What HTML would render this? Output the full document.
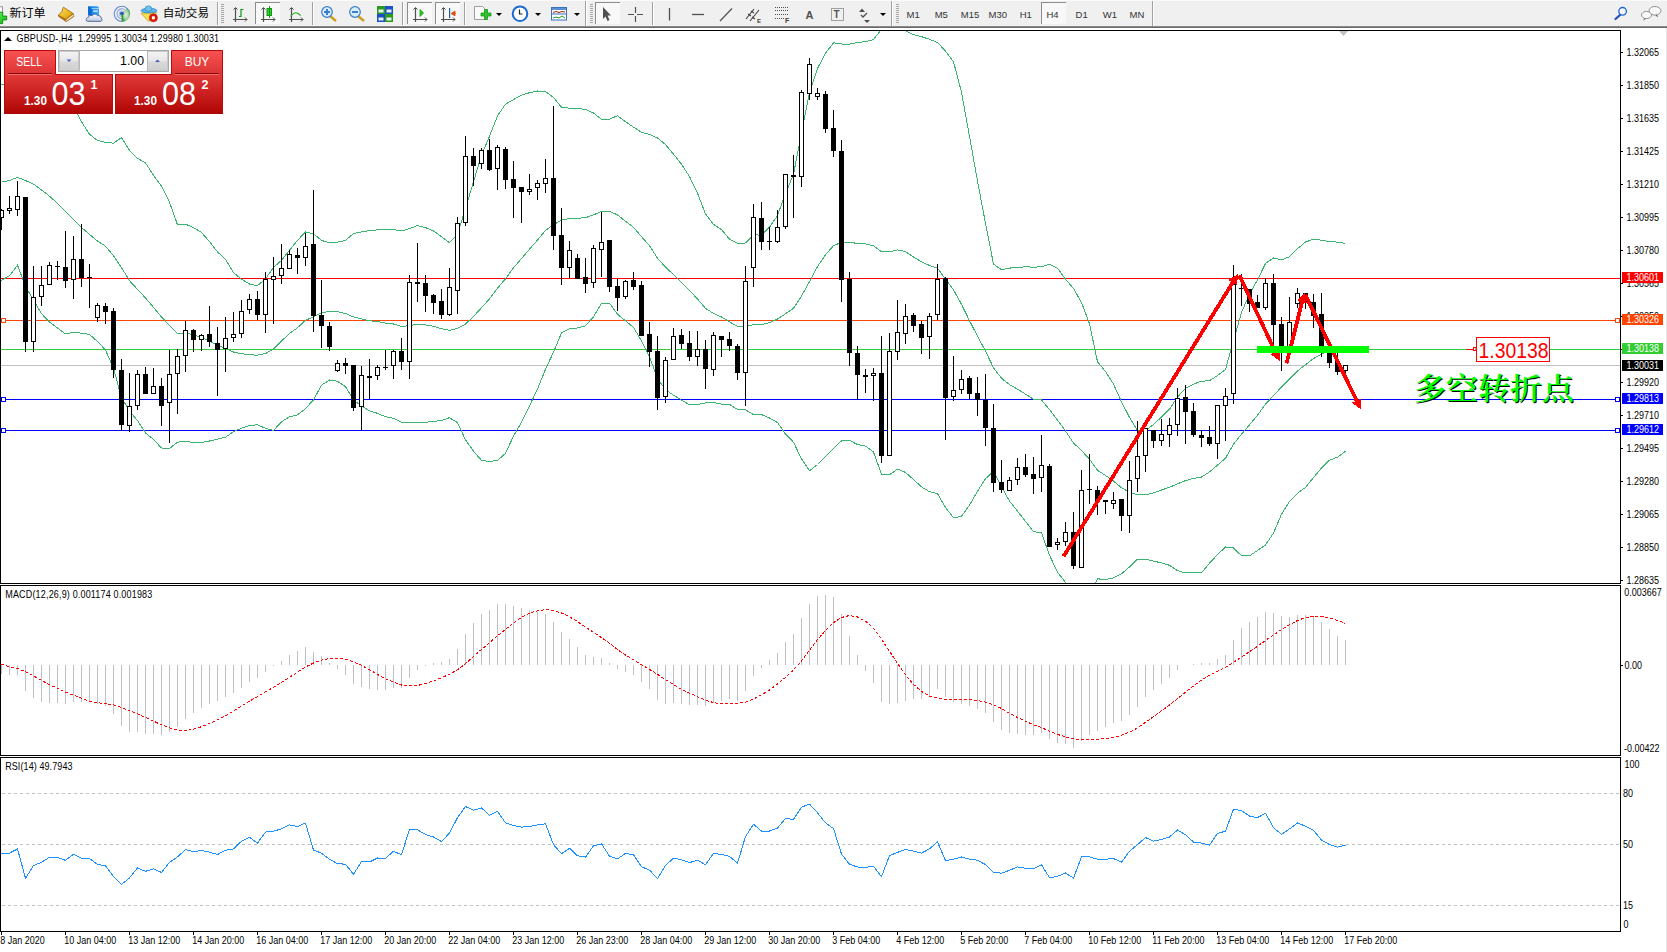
<!DOCTYPE html>
<html><head><meta charset="utf-8"><style>
html,body{margin:0;padding:0;background:#fff;overflow:hidden}
#wrap{position:relative;width:1667px;height:952px;overflow:hidden;background:#fff}
</style></head><body><div id="wrap">
<svg width="1667" height="952" style="position:absolute;left:0;top:0"><rect x="0" y="0" width="1667" height="26" fill="#f0f0f0"/><rect x="0" y="0" width="1667" height="1" fill="#fafafa"/><rect x="0" y="26" width="1667" height="1" fill="#8a8a8a"/><rect x="0" y="27" width="1667" height="1" fill="#6a6a6a"/><rect x="0" y="28" width="1667" height="2" fill="#fff"/><defs><linearGradient id="gpl" x1="0" y1="0" x2="1" y2="1"><stop offset="0" stop-color="#60ff60"/><stop offset="1" stop-color="#10b010"/></linearGradient></defs><rect x="-2" y="6.8" width="4.5" height="6" fill="#fff" stroke="#8a8a8a" stroke-width="0.9"/><path d="M-1.5,12.2 h4.2 v3.9 h4 v3.8 h-4 v3.7 h-4.2 v-3.7 h-3 v-3.8 h3 z" fill="url(#gpl)" stroke="#0a8a0a" stroke-width="0.9"/><text x="9.6" y="17.3" style="font-family:'Liberation Sans','Noto Sans CJK SC',sans-serif;font-size:11.5px" fill="#000" textLength="36" lengthAdjust="spacingAndGlyphs">新订单</text><defs><linearGradient id="gbk" x1="0" y1="0" x2="1" y2="1"><stop offset="0" stop-color="#fbe26a"/><stop offset="0.6" stop-color="#e8b820"/><stop offset="1" stop-color="#c89010"/></linearGradient><linearGradient id="gcl" x1="0" y1="0" x2="0" y2="1"><stop offset="0" stop-color="#ffffff"/><stop offset="1" stop-color="#b8c4dc"/></linearGradient><linearGradient id="gsv" x1="0" y1="0" x2="1" y2="0"><stop offset="0" stop-color="#0a78e0"/><stop offset="1" stop-color="#3aa8f8"/></linearGradient></defs><path d="M58.3,15.2 L58.8,16.6 L66.2,21.6 L73.9,16.4 L73.2,13.6 Z" fill="#b87818" stroke="#9a6010" stroke-width="0.8"/><path d="M66,19.8 L73.2,14.6 L73.5,15.9 L66.3,20.9 Z" fill="#f4ecd0"/><path d="M63.4,7.2 L72.8,13.3 L66.2,19.3 L58.3,15.2 C60,13.5 62,11.8 62.2,10.8 C62.6,9.2 62.8,8 63.4,7.2 Z" fill="url(#gbk)" stroke="#a86c10" stroke-width="0.9"/><path d="M88.2,6.2 H97.5 L99,7.5 V15.5 H88.2 Z" fill="url(#gsv)"/><path d="M88.2,6.2 L91.6,8.6 V15.5 H88.2 Z" fill="#0868d0"/><path d="M91.6,8.6 H99" stroke="#d0ecff" stroke-width="0.7"/><rect x="93.2" y="10.5" width="4.6" height="1.3" fill="#e8f4ff"/><path d="M87.2,21.3 C85.6,20.8 85.8,17.6 88.4,17.4 C88.6,15.6 90.8,14.8 92.2,15.8 C93,13.6 96.8,13.6 97.6,15.8 C99.2,15 101.4,16.2 101,18 C102.6,18.6 102.2,21.3 100.6,21.4 Z" fill="url(#gcl)" stroke="#4a5e98" stroke-width="0.9"/><defs><radialGradient id="gsg" cx="0.5" cy="0.5" r="0.5"><stop offset="0" stop-color="#e8f4e0"/><stop offset="0.7" stop-color="#90c890"/><stop offset="1" stop-color="#2a8a3a"/></radialGradient></defs><path d="M122,13.8 L122,21.8 A8,8 0 0 0 130,13.8 A8,8 0 0 0 127.5,8 Z" fill="url(#gsg)" opacity="0.9"/><path d="M122,21.3 A7.5,7.5 0 1 1 127.2,8.6" fill="none" stroke="#3a68d0" stroke-opacity="0.75" stroke-width="1.1"/><path d="M122,18.8 A5,5 0 1 1 125.5,10.3" fill="none" stroke="#3a68d0" stroke-opacity="0.55" stroke-width="1.1"/><path d="M122,16.6 A2.8,2.8 0 1 1 124.0,11.8" fill="none" stroke="#3a68d0" stroke-opacity="0.4" stroke-width="1.1"/><circle cx="121.9" cy="13.6" r="1.9" fill="#2050c8"/><rect x="121.6" y="13.8" width="1.3" height="7.8" fill="#20a020"/><path d="M141,13.2 L156.8,12.6 L148.6,21.4 Z" fill="#f8e050" stroke="#c89a20" stroke-width="0.8"/><ellipse cx="149" cy="10.6" rx="7.9" ry="2.3" fill="#62b4e8" stroke="#2a88c0" stroke-width="0.8"/><ellipse cx="148.4" cy="8.7" rx="3.4" ry="2.8" fill="#70c0f0" stroke="#2a88c0" stroke-width="0.7"/><circle cx="153.4" cy="17.8" r="4" fill="#e01a08" stroke="#b01000" stroke-width="0.6"/><rect x="151.9" y="16.3" width="3" height="3" fill="#fff"/><text x="162.7" y="17.3" style="font-family:'Liberation Sans','Noto Sans CJK SC',sans-serif;font-size:11.5px" fill="#000" textLength="46.3" lengthAdjust="spacingAndGlyphs">自动交易</text><rect x="217" y="2" width="1" height="23" fill="#a0a0a0"/><rect x="218" y="2" width="1" height="23" fill="#fff"/><rect x="221" y="4" width="3" height="1" fill="#a8a8a8"/><rect x="221" y="6" width="3" height="1" fill="#a8a8a8"/><rect x="221" y="8" width="3" height="1" fill="#a8a8a8"/><rect x="221" y="10" width="3" height="1" fill="#a8a8a8"/><rect x="221" y="12" width="3" height="1" fill="#a8a8a8"/><rect x="221" y="14" width="3" height="1" fill="#a8a8a8"/><rect x="221" y="16" width="3" height="1" fill="#a8a8a8"/><rect x="221" y="18" width="3" height="1" fill="#a8a8a8"/><rect x="221" y="20" width="3" height="1" fill="#a8a8a8"/><rect x="221" y="22" width="3" height="1" fill="#a8a8a8"/><path d="M235.5,8 v14 M233,19.5 h14" stroke="#505050" stroke-width="1.2" fill="none"/><path d="M233.5,9.5 l2,-2 l2,2 M245,17.5 l2,2 l-2,2" stroke="#505050" stroke-width="1" fill="none"/><path d="M239,16.5 h2 v-7 h2.5" stroke="#119911" stroke-width="1.2" fill="none"/><rect x="255" y="2" width="25" height="22" fill="#f8f8f8"/><rect x="255" y="2" width="25" height="1" fill="#8c8c8c"/><rect x="255" y="2" width="1" height="22" fill="#8c8c8c"/><path d="M263.5,8 v14 M261,19.5 h14" stroke="#505050" stroke-width="1.2" fill="none"/><path d="M261.5,9.5 l2,-2 l2,2 M273,17.5 l2,2 l-2,2" stroke="#505050" stroke-width="1" fill="none"/><rect x="267" y="8.5" width="4.5" height="7" fill="#30d030" stroke="#119911" stroke-width="1"/><rect x="269" y="6" width="1" height="12" fill="#119911"/><path d="M291.5,8 v14 M289,19.5 h14" stroke="#505050" stroke-width="1.2" fill="none"/><path d="M289.5,9.5 l2,-2 l2,2 M301,17.5 l2,2 l-2,2" stroke="#505050" stroke-width="1" fill="none"/><path d="M290.5,16.5 q5,-7 10,-1" stroke="#22aa22" stroke-width="1.2" fill="none"/><rect x="312" y="2" width="1" height="23" fill="#a0a0a0"/><rect x="313" y="2" width="1" height="23" fill="#fff"/><path d="M330,16 l6,5" stroke="#d0a020" stroke-width="2.6" fill="none"/><circle cx="327" cy="12" r="5.3" fill="#d8ecfa" stroke="#3a80c8" stroke-width="1.2"/><rect x="324" y="11" width="6" height="2" fill="#3a80c8"/><rect x="326" y="9" width="2" height="6" fill="#3a80c8"/><path d="M358,16 l6,5" stroke="#d0a020" stroke-width="2.6" fill="none"/><circle cx="355" cy="12" r="5.3" fill="#d8ecfa" stroke="#3a80c8" stroke-width="1.2"/><rect x="352" y="11" width="6" height="2" fill="#3a80c8"/><rect x="377" y="6" width="8" height="8" fill="#2c9a1c"/><rect x="378.5" y="9.5" width="5" height="3" fill="#e8f0f8"/><rect x="385" y="6" width="8" height="8" fill="#1a50c8"/><rect x="386.5" y="9.5" width="5" height="3" fill="#e8f0f8"/><rect x="377" y="14" width="8" height="8" fill="#1a50c8"/><rect x="378.5" y="17.5" width="5" height="3" fill="#e8f0f8"/><rect x="385" y="14" width="8" height="8" fill="#2c9a1c"/><rect x="386.5" y="17.5" width="5" height="3" fill="#e8f0f8"/><rect x="402" y="2" width="1" height="23" fill="#a0a0a0"/><rect x="403" y="2" width="1" height="23" fill="#fff"/><rect x="407" y="2" width="25" height="22" fill="#f8f8f8"/><rect x="407" y="2" width="25" height="1" fill="#8c8c8c"/><rect x="407" y="2" width="1" height="22" fill="#8c8c8c"/><path d="M415.5,8 v14 M413,19.5 h14" stroke="#505050" stroke-width="1.2" fill="none"/><path d="M413.5,9.5 l2,-2 l2,2 M425,17.5 l2,2 l-2,2" stroke="#505050" stroke-width="1" fill="none"/><path d="M420,9.5 l3.5,3.5 l-3.5,3.5 z" fill="#22cc22" stroke="#119911" stroke-width="0.8"/><rect x="435" y="2" width="25" height="22" fill="#f8f8f8"/><rect x="435" y="2" width="25" height="1" fill="#8c8c8c"/><rect x="435" y="2" width="1" height="22" fill="#8c8c8c"/><path d="M443.5,8 v14 M441,19.5 h14" stroke="#505050" stroke-width="1.2" fill="none"/><path d="M441.5,9.5 l2,-2 l2,2 M453,17.5 l2,2 l-2,2" stroke="#505050" stroke-width="1" fill="none"/><rect x="449" y="8" width="1.2" height="10" fill="#1a60b0"/><path d="M451,13.5 l4,-2.5 v5 z M453,13.5 h3" fill="#e05010" stroke="#e05010" stroke-width="0.8"/><rect x="464" y="2" width="1" height="23" fill="#a0a0a0"/><rect x="465" y="2" width="1" height="23" fill="#fff"/><path d="M474.5,6.5 h8 l3,3 v10 h-11 z" fill="#fafafa" stroke="#888" stroke-width="0.8"/><path d="M481,13 h3.5 v-3.5 h3 v3.5 h3.5 v3 h-3.5 v3.5 h-3 v-3.5 h-3.5 z" fill="#30c030" stroke="#119911" stroke-width="0.8"/><path d="M496,13 h6 l-3,3 z" fill="#000"/><circle cx="520" cy="13.7" r="7.3" fill="#fff" stroke="#1a6ad0" stroke-width="2"/><path d="M519.5,9.5 v4.5 h3" stroke="#222" stroke-width="1.2" fill="none"/><path d="M535,13 h6 l-3,3 z" fill="#000"/><rect x="551.5" y="7.5" width="15" height="12.5" fill="#fff" stroke="#3a70c0" stroke-width="1"/><rect x="552" y="8" width="14" height="2" fill="#5a90d8"/><rect x="552" y="13.5" width="14" height="1" fill="#3a70c0"/><path d="M553,12.5 l3,-1 l3,1 l3,-1 l3,0.5" stroke="#a02010" fill="none" stroke-width="1"/><path d="M553,18 l3,-1 l3,1 l3,-2 l3,2" stroke="#20a020" fill="none" stroke-width="1"/><path d="M574,13 h6 l-3,3 z" fill="#000"/><rect x="585" y="1" width="1" height="25" fill="#a0a0a0"/><rect x="586" y="1" width="1" height="25" fill="#fff"/><rect x="590" y="4" width="3" height="1" fill="#a8a8a8"/><rect x="590" y="6" width="3" height="1" fill="#a8a8a8"/><rect x="590" y="8" width="3" height="1" fill="#a8a8a8"/><rect x="590" y="10" width="3" height="1" fill="#a8a8a8"/><rect x="590" y="12" width="3" height="1" fill="#a8a8a8"/><rect x="590" y="14" width="3" height="1" fill="#a8a8a8"/><rect x="590" y="16" width="3" height="1" fill="#a8a8a8"/><rect x="590" y="18" width="3" height="1" fill="#a8a8a8"/><rect x="590" y="20" width="3" height="1" fill="#a8a8a8"/><rect x="590" y="22" width="3" height="1" fill="#a8a8a8"/><rect x="595" y="2" width="25" height="22" fill="#f8f8f8"/><rect x="595" y="2" width="25" height="1" fill="#8c8c8c"/><rect x="595" y="2" width="1" height="22" fill="#8c8c8c"/><path d="M603,7 v12 l2.5,-2.5 l2,4.5 l2,-1 l-2,-4.5 h3.5 z" fill="#505050"/><path d="M628,14.5 h6 M637,14.5 h6 M635.5,7 v6 M635.5,16 v6" stroke="#505050" stroke-width="1.2"/><rect x="652" y="2" width="1" height="23" fill="#a0a0a0"/><rect x="653" y="2" width="1" height="23" fill="#fff"/><path d="M669.5,8 v12.5" stroke="#505050" stroke-width="1.3"/><path d="M692,14.5 h12" stroke="#505050" stroke-width="1.3"/><path d="M720,21 L732,8.5" stroke="#505050" stroke-width="1.2"/><path d="M746,19 L754,9 M750,21 L759,10 M748,14 l3,2 M751,11 l3,2 M752,17 l3,2" stroke="#404040" stroke-width="1.1"/><text x="757" y="22.5" style="font-family:'Liberation Sans',Arial,sans-serif;font-size:6px;font-weight:bold" fill="#404040">E</text><path d="M775,7.5 h13.5" stroke="#505050" stroke-width="1" stroke-dasharray="1 1"/><path d="M775,10.5 h13.5" stroke="#505050" stroke-width="1" stroke-dasharray="1 1"/><path d="M775,14.5 h13.5" stroke="#505050" stroke-width="1" stroke-dasharray="1 1"/><path d="M775,18.5 h9" stroke="#505050" stroke-width="1" stroke-dasharray="1 1"/><text x="785" y="23" style="font-family:'Liberation Sans',Arial,sans-serif;font-size:7px;font-weight:bold" fill="#404040">F</text><text x="805.5" y="18.5" style="font-family:'Liberation Sans',Arial,sans-serif;font-size:11px;font-weight:bold" fill="#505050">A</text><rect x="831.5" y="8.5" width="12" height="12" fill="none" stroke="#505050" stroke-dasharray="1 1"/><text x="833.5" y="18" style="font-family:'Liberation Sans',Arial,sans-serif;font-size:10px;font-weight:bold" fill="#505050">T</text><path d="M859,12 l3,-3.5 l3,3.5 z M864,20 l3,3 l3,-3 z" fill="#505050"/><path d="M861,15 l2,2 l4,-4" stroke="#505050" stroke-width="1.3" fill="none"/><path d="M880,13 h6 l-3,3 z" fill="#000"/><rect x="891" y="1" width="1" height="25" fill="#a0a0a0"/><rect x="892" y="1" width="1" height="25" fill="#fff"/><rect x="896" y="4" width="3" height="1" fill="#a8a8a8"/><rect x="896" y="6" width="3" height="1" fill="#a8a8a8"/><rect x="896" y="8" width="3" height="1" fill="#a8a8a8"/><rect x="896" y="10" width="3" height="1" fill="#a8a8a8"/><rect x="896" y="12" width="3" height="1" fill="#a8a8a8"/><rect x="896" y="14" width="3" height="1" fill="#a8a8a8"/><rect x="896" y="16" width="3" height="1" fill="#a8a8a8"/><rect x="896" y="18" width="3" height="1" fill="#a8a8a8"/><rect x="896" y="20" width="3" height="1" fill="#a8a8a8"/><rect x="896" y="22" width="3" height="1" fill="#a8a8a8"/><rect x="1041" y="2" width="25" height="22" fill="#f8f8f8"/><rect x="1041" y="2" width="25" height="1" fill="#8c8c8c"/><rect x="1041" y="2" width="1" height="22" fill="#8c8c8c"/><g style="font-family:'Liberation Sans',Arial,sans-serif;font-size:9.5px" fill="#333"><text x="906.6" y="18">M1</text><text x="934.7" y="18">M5</text><text x="960.8" y="18">M15</text><text x="988.5" y="18">M30</text><text x="1019.7" y="18">H1</text><text x="1046.5" y="18">H4</text><text x="1075.6" y="18">D1</text><text x="1102.7" y="18">W1</text><text x="1129.5" y="18">MN</text></g><rect x="1152" y="1" width="1" height="25" fill="#a0a0a0"/><rect x="1153" y="1" width="1" height="25" fill="#fff"/><path d="M1620,15 L1615.5,19" stroke="#2050c0" stroke-width="2.2" stroke-linecap="round"/><circle cx="1622.6" cy="11.3" r="3.8" fill="#f4f8ff" stroke="#2060d0" stroke-width="1.3"/><ellipse cx="1655" cy="10.8" rx="6" ry="4.3" fill="#f8f8f8" stroke="#888" stroke-width="0.9"/><path d="M1657,14.5 l1,3 l-2.5,-2" fill="#666"/><ellipse cx="1646.5" cy="15" rx="5" ry="3.6" fill="#f8f8f8" stroke="#888" stroke-width="0.9"/><path d="M1644.5,18.3 l-1.5,2.5 l3,-2" fill="#666"/><rect x="0" y="30" width="1621" height="554" fill="#fff"/><defs><clipPath id="cm"><rect x="1" y="31" width="1619" height="552"/></clipPath><clipPath id="cd"><rect x="1" y="586" width="1619" height="169"/></clipPath><clipPath id="cr"><rect x="1" y="758" width="1619" height="173"/></clipPath></defs><g clip-path="url(#cm)"><rect x="1" y="278" width="1619" height="1" fill="#ff0000"/><rect x="1" y="320" width="1619" height="1" fill="#ff4500"/><rect x="1" y="349" width="1619" height="1" fill="#32cd32"/><rect x="1" y="365" width="1619" height="1" fill="#c0c0c0"/><rect x="1" y="399" width="1619" height="1" fill="#0000ff"/><rect x="1" y="430" width="1619" height="1" fill="#0000ff"/><polyline points="1.5,84.0 9.5,85.4 17.5,89.4 25.5,74.8 33.5,68.2 41.5,66.2 49.5,70.5 57.5,78.4 65.5,89.4 73.5,106.8 81.5,121.8 89.5,134.3 97.5,140.5 105.5,142.4 113.5,143.2 121.5,137.6 129.5,150.4 137.5,158.3 145.5,162.9 153.5,175.3 161.5,186.3 169.5,202.2 177.5,224.8 185.5,224.2 193.5,227.5 201.5,232.5 209.5,241.6 217.5,251.9 225.5,259.4 233.5,272.5 241.5,279.2 249.5,284.0 257.5,285.7 265.5,278.9 273.5,267.4 281.5,260.3 289.5,250.2 297.5,240.4 305.5,231.9 313.5,233.8 321.5,240.4 329.5,242.8 337.5,242.2 345.5,240.4 353.5,233.5 361.5,232.0 369.5,230.5 377.5,229.9 385.5,229.4 393.5,229.6 401.5,230.9 409.5,228.7 417.5,225.5 425.5,227.6 433.5,230.9 441.5,236.8 449.5,242.8 457.5,234.4 465.5,208.2 473.5,181.8 481.5,155.1 489.5,136.3 497.5,115.8 505.5,104.2 513.5,99.6 521.5,95.1 529.5,92.7 537.5,91.0 545.5,91.6 553.5,97.4 561.5,107.2 569.5,108.2 577.5,108.5 585.5,109.5 593.5,113.0 601.5,119.3 609.5,119.3 617.5,115.6 625.5,121.7 633.5,127.2 641.5,132.2 649.5,134.5 657.5,137.9 665.5,144.6 673.5,154.1 681.5,164.3 689.5,176.5 697.5,193.2 705.5,214.0 713.5,224.4 721.5,229.7 729.5,239.2 737.5,243.4 745.5,243.0 753.5,234.9 761.5,235.1 769.5,227.2 777.5,215.5 785.5,193.4 793.5,174.4 801.5,133.2 809.5,92.6 817.5,68.5 825.5,53.2 833.5,42.8 841.5,44.0 849.5,44.2 857.5,42.4 865.5,41.7 873.5,39.6 881.5,29.1 889.5,29.0 897.5,30.7 905.5,30.9 913.5,34.6 921.5,36.7 929.5,39.3 937.5,42.5 945.5,51.1 953.5,61.8 961.5,92.2 969.5,136.3 977.5,181.1 985.5,223.4 993.5,264.1 1001.5,269.7 1009.5,268.1 1017.5,267.4 1025.5,266.8 1033.5,267.2 1041.5,266.8 1049.5,264.1 1057.5,268.1 1065.5,279.3 1073.5,288.4 1081.5,302.6 1089.5,323.8 1097.5,361.8 1105.5,371.5 1113.5,384.1 1121.5,401.8 1129.5,417.4 1137.5,430.6 1145.5,430.6 1153.5,424.4 1161.5,417.1 1169.5,409.2 1177.5,397.0 1185.5,388.4 1193.5,384.1 1201.5,381.2 1209.5,380.7 1217.5,375.6 1225.5,369.6 1233.5,340.4 1241.5,312.6 1249.5,293.8 1257.5,279.8 1265.5,263.5 1273.5,258.0 1281.5,259.9 1289.5,256.7 1297.5,248.7 1305.5,242.0 1313.5,239.3 1321.5,240.2 1329.5,241.7 1337.5,242.1 1345.5,243.4" fill="none" stroke="#3cb371" stroke-width="1" shape-rendering="crispEdges"/><polyline points="1.5,182.2 9.5,180.5 17.5,177.3 25.5,180.6 33.5,184.1 41.5,189.9 49.5,196.2 57.5,203.3 65.5,211.6 73.5,219.6 81.5,227.5 89.5,234.4 97.5,241.0 105.5,246.2 113.5,255.7 121.5,267.6 129.5,280.7 137.5,289.4 145.5,297.9 153.5,307.4 161.5,317.1 169.5,325.4 177.5,333.4 185.5,332.8 193.5,334.9 201.5,337.5 209.5,341.3 217.5,345.5 225.5,348.3 233.5,352.0 241.5,353.7 249.5,354.8 257.5,355.2 265.5,353.6 273.5,348.9 281.5,341.1 289.5,333.5 297.5,327.7 305.5,320.3 313.5,316.8 321.5,312.8 329.5,311.4 337.5,311.7 345.5,313.5 353.5,316.9 361.5,318.9 369.5,320.7 377.5,321.6 385.5,323.1 393.5,324.0 401.5,326.5 409.5,325.6 417.5,324.1 425.5,324.9 433.5,326.3 441.5,328.6 449.5,330.3 457.5,328.5 465.5,324.0 473.5,316.5 481.5,307.7 489.5,298.9 497.5,288.1 505.5,278.8 513.5,267.8 521.5,258.6 529.5,249.2 537.5,240.0 545.5,230.5 553.5,224.7 561.5,220.1 569.5,218.5 577.5,218.3 585.5,217.7 593.5,214.9 601.5,211.3 609.5,211.2 617.5,215.0 625.5,221.2 633.5,227.3 641.5,236.6 649.5,245.7 657.5,258.2 665.5,267.2 673.5,274.6 681.5,282.2 689.5,290.6 697.5,298.9 705.5,308.4 713.5,313.4 721.5,317.0 729.5,321.8 737.5,326.5 745.5,326.3 753.5,324.8 761.5,324.8 769.5,322.6 777.5,319.1 785.5,313.8 793.5,308.3 801.5,296.1 809.5,281.7 817.5,266.5 825.5,254.9 833.5,245.6 841.5,242.4 849.5,242.2 857.5,243.5 865.5,243.9 873.5,245.8 881.5,251.7 889.5,251.9 897.5,249.9 905.5,251.6 913.5,257.0 921.5,261.8 929.5,265.5 937.5,268.1 945.5,279.2 953.5,289.9 961.5,304.3 969.5,320.7 977.5,336.1 985.5,351.1 993.5,367.7 1001.5,378.3 1009.5,384.6 1017.5,389.2 1025.5,394.1 1033.5,399.4 1041.5,399.9 1049.5,409.6 1057.5,420.1 1065.5,430.9 1073.5,442.9 1081.5,450.5 1089.5,459.2 1097.5,470.3 1105.5,475.5 1113.5,481.0 1121.5,487.8 1129.5,492.1 1137.5,494.9 1145.5,494.9 1153.5,492.8 1161.5,490.0 1169.5,487.3 1177.5,483.8 1185.5,480.6 1193.5,478.4 1201.5,477.1 1209.5,471.9 1217.5,465.1 1225.5,458.3 1233.5,444.2 1241.5,434.2 1249.5,424.8 1257.5,415.1 1265.5,404.2 1273.5,395.5 1281.5,387.0 1289.5,379.1 1297.5,371.0 1305.5,364.7 1313.5,358.5 1321.5,354.1 1329.5,351.0 1337.5,349.7 1345.5,347.3" fill="none" stroke="#3cb371" stroke-width="1" shape-rendering="crispEdges"/><polyline points="1.5,280.5 9.5,275.7 17.5,265.2 25.5,286.4 33.5,300.1 41.5,313.7 49.5,322.0 57.5,328.1 65.5,333.9 73.5,332.3 81.5,333.2 89.5,334.4 97.5,341.5 105.5,350.0 113.5,368.1 121.5,397.6 129.5,411.0 137.5,420.5 145.5,432.9 153.5,439.4 161.5,448.0 169.5,448.6 177.5,442.1 185.5,441.4 193.5,442.4 201.5,442.4 209.5,441.0 217.5,439.1 225.5,437.3 233.5,431.6 241.5,428.3 249.5,425.5 257.5,424.8 265.5,428.4 273.5,430.5 281.5,421.8 289.5,416.8 297.5,414.9 305.5,408.7 313.5,399.8 321.5,385.2 329.5,380.0 337.5,381.3 345.5,386.6 353.5,400.3 361.5,405.9 369.5,410.9 377.5,413.3 385.5,416.8 393.5,418.4 401.5,422.2 409.5,422.6 417.5,422.6 425.5,422.2 433.5,421.6 441.5,420.4 449.5,417.7 457.5,422.7 465.5,439.8 473.5,451.2 481.5,460.4 489.5,461.5 497.5,460.4 505.5,453.4 513.5,436.0 521.5,422.2 529.5,405.8 537.5,389.0 545.5,369.4 553.5,352.1 561.5,333.0 569.5,328.8 577.5,328.0 585.5,325.8 593.5,316.9 601.5,303.3 609.5,303.1 617.5,314.3 625.5,320.8 633.5,327.4 641.5,340.9 649.5,356.8 657.5,378.5 665.5,389.8 673.5,395.2 681.5,400.1 689.5,404.7 697.5,404.6 705.5,402.9 713.5,402.4 721.5,404.2 729.5,404.4 737.5,409.5 745.5,409.7 753.5,414.7 761.5,414.6 769.5,418.0 777.5,422.6 785.5,434.1 793.5,442.2 801.5,458.9 809.5,470.8 817.5,464.5 825.5,456.5 833.5,448.4 841.5,440.9 849.5,440.3 857.5,444.6 865.5,446.1 873.5,452.1 881.5,474.2 889.5,474.8 897.5,469.1 905.5,472.4 913.5,479.5 921.5,486.9 929.5,491.7 937.5,493.7 945.5,507.4 953.5,517.9 961.5,516.3 969.5,505.2 977.5,491.2 985.5,478.7 993.5,471.3 1001.5,486.8 1009.5,501.1 1017.5,511.1 1025.5,521.4 1033.5,531.6 1041.5,532.9 1049.5,555.2 1057.5,572.1 1065.5,582.5 1073.5,597.4 1081.5,598.5 1089.5,594.6 1097.5,578.8 1105.5,579.6 1113.5,577.9 1121.5,573.8 1129.5,566.9 1137.5,559.2 1145.5,559.2 1153.5,561.1 1161.5,562.9 1169.5,565.3 1177.5,570.6 1185.5,572.9 1193.5,572.8 1201.5,572.9 1209.5,563.1 1217.5,554.6 1225.5,547.0 1233.5,548.0 1241.5,555.7 1249.5,555.9 1257.5,550.5 1265.5,544.9 1273.5,533.0 1281.5,514.2 1289.5,501.5 1297.5,493.3 1305.5,487.4 1313.5,477.6 1321.5,468.0 1329.5,460.2 1337.5,457.2 1345.5,451.3" fill="none" stroke="#3cb371" stroke-width="1" shape-rendering="crispEdges"/><g fill="#000"><rect x="1" y="209" width="1" height="21"/><rect x="-1" y="210" width="5" height="8"/><rect x="0" y="211" width="3" height="6" fill="#fff"/><rect x="9" y="196" width="1" height="18"/><rect x="7" y="208" width="5" height="3"/><rect x="8" y="209" width="3" height="1" fill="#fff"/><rect x="17" y="181" width="1" height="35"/><rect x="15" y="196" width="5" height="14"/><rect x="16" y="197" width="3" height="12" fill="#fff"/><rect x="25" y="197" width="1" height="155"/><rect x="23" y="197" width="5" height="145"/><rect x="33" y="266" width="1" height="86"/><rect x="31" y="297" width="5" height="45"/><rect x="32" y="298" width="3" height="43" fill="#fff"/><rect x="41" y="266" width="1" height="40"/><rect x="39" y="285" width="5" height="12"/><rect x="40" y="286" width="3" height="10" fill="#fff"/><rect x="49" y="262" width="1" height="23"/><rect x="47" y="265" width="5" height="20"/><rect x="48" y="266" width="3" height="18" fill="#fff"/><rect x="57" y="261" width="1" height="19"/><rect x="55" y="266" width="5" height="1"/><rect x="65" y="231" width="1" height="57"/><rect x="63" y="267" width="5" height="14"/><rect x="73" y="236" width="1" height="63"/><rect x="71" y="259" width="5" height="21"/><rect x="72" y="260" width="3" height="19" fill="#fff"/><rect x="81" y="224" width="1" height="63"/><rect x="79" y="259" width="5" height="19"/><rect x="89" y="264" width="1" height="44"/><rect x="87" y="277" width="5" height="1"/><rect x="97" y="303" width="1" height="19"/><rect x="95" y="305" width="5" height="13"/><rect x="96" y="306" width="3" height="11" fill="#fff"/><rect x="105" y="303" width="1" height="21"/><rect x="103" y="306" width="5" height="6"/><rect x="113" y="308" width="1" height="70"/><rect x="111" y="311" width="5" height="59"/><rect x="121" y="359" width="1" height="72"/><rect x="119" y="370" width="5" height="55"/><rect x="129" y="373" width="1" height="59"/><rect x="127" y="406" width="5" height="20"/><rect x="128" y="407" width="3" height="18" fill="#fff"/><rect x="137" y="370" width="1" height="40"/><rect x="135" y="374" width="5" height="32"/><rect x="136" y="375" width="3" height="30" fill="#fff"/><rect x="145" y="367" width="1" height="27"/><rect x="143" y="374" width="5" height="20"/><rect x="153" y="368" width="1" height="26"/><rect x="151" y="386" width="5" height="8"/><rect x="152" y="387" width="3" height="6" fill="#fff"/><rect x="161" y="378" width="1" height="48"/><rect x="159" y="386" width="5" height="20"/><rect x="169" y="350" width="1" height="93"/><rect x="167" y="374" width="5" height="29"/><rect x="168" y="375" width="3" height="27" fill="#fff"/><rect x="177" y="349" width="1" height="65"/><rect x="175" y="356" width="5" height="18"/><rect x="176" y="357" width="3" height="16" fill="#fff"/><rect x="185" y="321" width="1" height="51"/><rect x="183" y="330" width="5" height="26"/><rect x="184" y="331" width="3" height="24" fill="#fff"/><rect x="193" y="329" width="1" height="23"/><rect x="191" y="330" width="5" height="10"/><rect x="201" y="334" width="1" height="17"/><rect x="199" y="335" width="5" height="5"/><rect x="200" y="336" width="3" height="3" fill="#fff"/><rect x="209" y="306" width="1" height="41"/><rect x="207" y="334" width="5" height="8"/><rect x="217" y="327" width="1" height="69"/><rect x="215" y="343" width="5" height="7"/><rect x="225" y="317" width="1" height="55"/><rect x="223" y="338" width="5" height="11"/><rect x="224" y="339" width="3" height="9" fill="#fff"/><rect x="233" y="312" width="1" height="30"/><rect x="231" y="334" width="5" height="4"/><rect x="232" y="335" width="3" height="2" fill="#fff"/><rect x="241" y="300" width="1" height="38"/><rect x="239" y="311" width="5" height="23"/><rect x="240" y="312" width="3" height="21" fill="#fff"/><rect x="249" y="294" width="1" height="20"/><rect x="247" y="299" width="5" height="11"/><rect x="248" y="300" width="3" height="9" fill="#fff"/><rect x="257" y="291" width="1" height="29"/><rect x="255" y="299" width="5" height="16"/><rect x="265" y="272" width="1" height="61"/><rect x="263" y="279" width="5" height="36"/><rect x="264" y="280" width="3" height="34" fill="#fff"/><rect x="273" y="257" width="1" height="67"/><rect x="271" y="276" width="5" height="4"/><rect x="272" y="277" width="3" height="2" fill="#fff"/><rect x="281" y="244" width="1" height="40"/><rect x="279" y="268" width="5" height="8"/><rect x="280" y="269" width="3" height="6" fill="#fff"/><rect x="289" y="250" width="1" height="19"/><rect x="287" y="254" width="5" height="15"/><rect x="288" y="255" width="3" height="13" fill="#fff"/><rect x="297" y="248" width="1" height="26"/><rect x="295" y="255" width="5" height="3"/><rect x="305" y="233" width="1" height="33"/><rect x="303" y="246" width="5" height="12"/><rect x="304" y="247" width="3" height="10" fill="#fff"/><rect x="313" y="190" width="1" height="142"/><rect x="311" y="244" width="5" height="72"/><rect x="321" y="280" width="1" height="68"/><rect x="319" y="315" width="5" height="11"/><rect x="329" y="322" width="1" height="29"/><rect x="327" y="326" width="5" height="21"/><rect x="337" y="360" width="1" height="12"/><rect x="335" y="363" width="5" height="8"/><rect x="336" y="364" width="3" height="6" fill="#fff"/><rect x="345" y="358" width="1" height="16"/><rect x="343" y="363" width="5" height="3"/><rect x="353" y="365" width="1" height="46"/><rect x="351" y="365" width="5" height="43"/><rect x="361" y="366" width="1" height="64"/><rect x="359" y="375" width="5" height="32"/><rect x="360" y="376" width="3" height="30" fill="#fff"/><rect x="369" y="359" width="1" height="40"/><rect x="367" y="376" width="5" height="2"/><rect x="377" y="365" width="1" height="15"/><rect x="375" y="367" width="5" height="9"/><rect x="376" y="368" width="3" height="7" fill="#fff"/><rect x="385" y="350" width="1" height="20"/><rect x="383" y="367" width="5" height="1"/><rect x="393" y="350" width="1" height="29"/><rect x="391" y="351" width="5" height="15"/><rect x="392" y="352" width="3" height="13" fill="#fff"/><rect x="401" y="338" width="1" height="32"/><rect x="399" y="351" width="5" height="11"/><rect x="409" y="275" width="1" height="104"/><rect x="407" y="282" width="5" height="80"/><rect x="408" y="283" width="3" height="78" fill="#fff"/><rect x="417" y="243" width="1" height="59"/><rect x="415" y="282" width="5" height="2"/><rect x="425" y="275" width="1" height="37"/><rect x="423" y="283" width="5" height="13"/><rect x="433" y="294" width="1" height="20"/><rect x="431" y="295" width="5" height="8"/><rect x="441" y="289" width="1" height="30"/><rect x="439" y="301" width="5" height="14"/><rect x="449" y="268" width="1" height="48"/><rect x="447" y="287" width="5" height="28"/><rect x="448" y="288" width="3" height="26" fill="#fff"/><rect x="457" y="217" width="1" height="97"/><rect x="455" y="223" width="5" height="68"/><rect x="456" y="224" width="3" height="66" fill="#fff"/><rect x="465" y="136" width="1" height="90"/><rect x="463" y="156" width="5" height="67"/><rect x="464" y="157" width="3" height="65" fill="#fff"/><rect x="473" y="148" width="1" height="38"/><rect x="471" y="156" width="5" height="10"/><rect x="481" y="148" width="1" height="21"/><rect x="479" y="150" width="5" height="14"/><rect x="480" y="151" width="3" height="12" fill="#fff"/><rect x="489" y="139" width="1" height="32"/><rect x="487" y="150" width="5" height="20"/><rect x="497" y="145" width="1" height="45"/><rect x="495" y="147" width="5" height="22"/><rect x="496" y="148" width="3" height="20" fill="#fff"/><rect x="505" y="147" width="1" height="42"/><rect x="503" y="149" width="5" height="31"/><rect x="513" y="161" width="1" height="57"/><rect x="511" y="179" width="5" height="9"/><rect x="521" y="187" width="1" height="36"/><rect x="519" y="187" width="5" height="5"/><rect x="529" y="174" width="1" height="21"/><rect x="527" y="189" width="5" height="3"/><rect x="528" y="190" width="3" height="1" fill="#fff"/><rect x="537" y="180" width="1" height="20"/><rect x="535" y="183" width="5" height="5"/><rect x="536" y="184" width="3" height="3" fill="#fff"/><rect x="545" y="159" width="1" height="34"/><rect x="543" y="178" width="5" height="6"/><rect x="544" y="179" width="3" height="4" fill="#fff"/><rect x="553" y="106" width="1" height="144"/><rect x="551" y="178" width="5" height="58"/><rect x="561" y="208" width="1" height="77"/><rect x="559" y="235" width="5" height="33"/><rect x="569" y="241" width="1" height="37"/><rect x="567" y="250" width="5" height="18"/><rect x="568" y="251" width="3" height="16" fill="#fff"/><rect x="577" y="254" width="1" height="25"/><rect x="575" y="258" width="5" height="21"/><rect x="585" y="258" width="1" height="35"/><rect x="583" y="277" width="5" height="7"/><rect x="593" y="245" width="1" height="43"/><rect x="591" y="248" width="5" height="35"/><rect x="592" y="249" width="3" height="33" fill="#fff"/><rect x="601" y="212" width="1" height="65"/><rect x="599" y="242" width="5" height="8"/><rect x="600" y="243" width="3" height="6" fill="#fff"/><rect x="609" y="240" width="1" height="52"/><rect x="607" y="240" width="5" height="47"/><rect x="617" y="279" width="1" height="32"/><rect x="615" y="286" width="5" height="12"/><rect x="625" y="280" width="1" height="19"/><rect x="623" y="281" width="5" height="16"/><rect x="624" y="282" width="3" height="14" fill="#fff"/><rect x="633" y="272" width="1" height="18"/><rect x="631" y="280" width="5" height="7"/><rect x="641" y="281" width="1" height="55"/><rect x="639" y="285" width="5" height="51"/><rect x="649" y="322" width="1" height="45"/><rect x="647" y="334" width="5" height="18"/><rect x="657" y="336" width="1" height="74"/><rect x="655" y="351" width="5" height="47"/><rect x="665" y="357" width="1" height="46"/><rect x="663" y="360" width="5" height="37"/><rect x="664" y="361" width="3" height="35" fill="#fff"/><rect x="673" y="328" width="1" height="32"/><rect x="671" y="336" width="5" height="24"/><rect x="672" y="337" width="3" height="22" fill="#fff"/><rect x="681" y="329" width="1" height="20"/><rect x="679" y="335" width="5" height="9"/><rect x="689" y="331" width="1" height="30"/><rect x="687" y="343" width="5" height="14"/><rect x="697" y="331" width="1" height="35"/><rect x="695" y="349" width="5" height="8"/><rect x="696" y="350" width="3" height="6" fill="#fff"/><rect x="705" y="340" width="1" height="49"/><rect x="703" y="349" width="5" height="20"/><rect x="713" y="332" width="1" height="44"/><rect x="711" y="335" width="5" height="35"/><rect x="712" y="336" width="3" height="33" fill="#fff"/><rect x="721" y="336" width="1" height="21"/><rect x="719" y="336" width="5" height="4"/><rect x="729" y="332" width="1" height="19"/><rect x="727" y="339" width="5" height="7"/><rect x="737" y="344" width="1" height="36"/><rect x="735" y="346" width="5" height="27"/><rect x="745" y="266" width="1" height="140"/><rect x="743" y="281" width="5" height="92"/><rect x="744" y="282" width="3" height="90" fill="#fff"/><rect x="753" y="204" width="1" height="83"/><rect x="751" y="217" width="5" height="51"/><rect x="752" y="218" width="3" height="49" fill="#fff"/><rect x="761" y="202" width="1" height="48"/><rect x="759" y="218" width="5" height="24"/><rect x="769" y="227" width="1" height="23"/><rect x="767" y="241" width="5" height="1"/><rect x="777" y="210" width="1" height="33"/><rect x="775" y="227" width="5" height="15"/><rect x="776" y="228" width="3" height="13" fill="#fff"/><rect x="785" y="174" width="1" height="55"/><rect x="783" y="174" width="5" height="53"/><rect x="784" y="175" width="3" height="51" fill="#fff"/><rect x="793" y="155" width="1" height="63"/><rect x="791" y="175" width="5" height="2"/><rect x="801" y="90" width="1" height="97"/><rect x="799" y="92" width="5" height="85"/><rect x="800" y="93" width="3" height="83" fill="#fff"/><rect x="809" y="58" width="1" height="42"/><rect x="807" y="64" width="5" height="30"/><rect x="808" y="65" width="3" height="28" fill="#fff"/><rect x="817" y="88" width="1" height="12"/><rect x="815" y="93" width="5" height="4"/><rect x="816" y="94" width="3" height="2" fill="#fff"/><rect x="825" y="91" width="1" height="42"/><rect x="823" y="94" width="5" height="35"/><rect x="833" y="110" width="1" height="47"/><rect x="831" y="128" width="5" height="23"/><rect x="841" y="140" width="1" height="162"/><rect x="839" y="151" width="5" height="129"/><rect x="849" y="272" width="1" height="94"/><rect x="847" y="279" width="5" height="74"/><rect x="857" y="346" width="1" height="54"/><rect x="855" y="353" width="5" height="22"/><rect x="865" y="369" width="1" height="24"/><rect x="863" y="375" width="5" height="2"/><rect x="873" y="368" width="1" height="33"/><rect x="871" y="373" width="5" height="3"/><rect x="872" y="374" width="3" height="1" fill="#fff"/><rect x="881" y="336" width="1" height="127"/><rect x="879" y="373" width="5" height="83"/><rect x="889" y="333" width="1" height="123"/><rect x="887" y="351" width="5" height="105"/><rect x="888" y="352" width="3" height="103" fill="#fff"/><rect x="897" y="300" width="1" height="60"/><rect x="895" y="332" width="5" height="20"/><rect x="896" y="333" width="3" height="18" fill="#fff"/><rect x="905" y="304" width="1" height="40"/><rect x="903" y="316" width="5" height="18"/><rect x="904" y="317" width="3" height="16" fill="#fff"/><rect x="913" y="313" width="1" height="19"/><rect x="911" y="315" width="5" height="11"/><rect x="921" y="321" width="1" height="33"/><rect x="919" y="324" width="5" height="14"/><rect x="929" y="313" width="1" height="46"/><rect x="927" y="316" width="5" height="21"/><rect x="928" y="317" width="3" height="19" fill="#fff"/><rect x="937" y="264" width="1" height="56"/><rect x="935" y="279" width="5" height="36"/><rect x="936" y="280" width="3" height="34" fill="#fff"/><rect x="945" y="277" width="1" height="163"/><rect x="943" y="278" width="5" height="120"/><rect x="953" y="356" width="1" height="45"/><rect x="951" y="390" width="5" height="7"/><rect x="952" y="391" width="3" height="5" fill="#fff"/><rect x="961" y="370" width="1" height="24"/><rect x="959" y="379" width="5" height="11"/><rect x="960" y="380" width="3" height="9" fill="#fff"/><rect x="969" y="376" width="1" height="23"/><rect x="967" y="378" width="5" height="16"/><rect x="977" y="377" width="1" height="39"/><rect x="975" y="393" width="5" height="7"/><rect x="985" y="374" width="1" height="72"/><rect x="983" y="400" width="5" height="28"/><rect x="993" y="404" width="1" height="88"/><rect x="991" y="428" width="5" height="55"/><rect x="1001" y="460" width="1" height="33"/><rect x="999" y="482" width="5" height="8"/><rect x="1009" y="477" width="1" height="14"/><rect x="1007" y="480" width="5" height="11"/><rect x="1008" y="481" width="3" height="9" fill="#fff"/><rect x="1017" y="458" width="1" height="27"/><rect x="1015" y="467" width="5" height="13"/><rect x="1016" y="468" width="3" height="11" fill="#fff"/><rect x="1025" y="454" width="1" height="23"/><rect x="1023" y="467" width="5" height="8"/><rect x="1033" y="457" width="1" height="37"/><rect x="1031" y="474" width="5" height="5"/><rect x="1041" y="435" width="1" height="57"/><rect x="1039" y="465" width="5" height="13"/><rect x="1040" y="466" width="3" height="11" fill="#fff"/><rect x="1049" y="464" width="1" height="83"/><rect x="1047" y="466" width="5" height="81"/><rect x="1057" y="538" width="1" height="12"/><rect x="1055" y="542" width="5" height="3"/><rect x="1056" y="543" width="3" height="1" fill="#fff"/><rect x="1065" y="522" width="1" height="24"/><rect x="1063" y="532" width="5" height="10"/><rect x="1064" y="533" width="3" height="8" fill="#fff"/><rect x="1073" y="512" width="1" height="57"/><rect x="1071" y="532" width="5" height="34"/><rect x="1081" y="470" width="1" height="98"/><rect x="1079" y="490" width="5" height="78"/><rect x="1080" y="491" width="3" height="76" fill="#fff"/><rect x="1089" y="454" width="1" height="50"/><rect x="1087" y="489" width="5" height="1"/><rect x="1097" y="486" width="1" height="29"/><rect x="1095" y="490" width="5" height="12"/><rect x="1105" y="500" width="1" height="14"/><rect x="1103" y="500" width="5" height="2"/><rect x="1113" y="492" width="1" height="17"/><rect x="1111" y="500" width="5" height="4"/><rect x="1112" y="501" width="3" height="2" fill="#fff"/><rect x="1121" y="499" width="1" height="32"/><rect x="1119" y="499" width="5" height="17"/><rect x="1129" y="461" width="1" height="72"/><rect x="1127" y="480" width="5" height="36"/><rect x="1128" y="481" width="3" height="34" fill="#fff"/><rect x="1137" y="421" width="1" height="71"/><rect x="1135" y="456" width="5" height="23"/><rect x="1136" y="457" width="3" height="21" fill="#fff"/><rect x="1145" y="428" width="1" height="44"/><rect x="1143" y="428" width="5" height="28"/><rect x="1144" y="429" width="3" height="26" fill="#fff"/><rect x="1153" y="430" width="1" height="18"/><rect x="1151" y="430" width="5" height="11"/><rect x="1161" y="419" width="1" height="27"/><rect x="1159" y="434" width="5" height="7"/><rect x="1160" y="435" width="3" height="5" fill="#fff"/><rect x="1169" y="418" width="1" height="29"/><rect x="1167" y="425" width="5" height="10"/><rect x="1168" y="426" width="3" height="8" fill="#fff"/><rect x="1177" y="388" width="1" height="48"/><rect x="1175" y="398" width="5" height="27"/><rect x="1176" y="399" width="3" height="25" fill="#fff"/><rect x="1185" y="385" width="1" height="59"/><rect x="1183" y="397" width="5" height="15"/><rect x="1193" y="403" width="1" height="34"/><rect x="1191" y="411" width="5" height="24"/><rect x="1201" y="430" width="1" height="17"/><rect x="1199" y="435" width="5" height="3"/><rect x="1209" y="426" width="1" height="20"/><rect x="1207" y="437" width="5" height="7"/><rect x="1217" y="405" width="1" height="54"/><rect x="1215" y="405" width="5" height="39"/><rect x="1216" y="406" width="3" height="37" fill="#fff"/><rect x="1225" y="388" width="1" height="53"/><rect x="1223" y="396" width="5" height="10"/><rect x="1224" y="397" width="3" height="8" fill="#fff"/><rect x="1233" y="265" width="1" height="139"/><rect x="1231" y="284" width="5" height="110"/><rect x="1232" y="285" width="3" height="108" fill="#fff"/><rect x="1241" y="274" width="1" height="32"/><rect x="1239" y="288" width="5" height="1"/><rect x="1249" y="289" width="1" height="23"/><rect x="1247" y="289" width="5" height="15"/><rect x="1257" y="295" width="1" height="13"/><rect x="1255" y="302" width="5" height="6"/><rect x="1265" y="278" width="1" height="32"/><rect x="1263" y="283" width="5" height="25"/><rect x="1264" y="284" width="3" height="23" fill="#fff"/><rect x="1273" y="274" width="1" height="71"/><rect x="1271" y="283" width="5" height="42"/><rect x="1281" y="317" width="1" height="54"/><rect x="1279" y="324" width="5" height="22"/><rect x="1289" y="297" width="1" height="55"/><rect x="1287" y="322" width="5" height="25"/><rect x="1288" y="323" width="3" height="23" fill="#fff"/><rect x="1297" y="288" width="1" height="20"/><rect x="1295" y="293" width="5" height="11"/><rect x="1296" y="294" width="3" height="9" fill="#fff"/><rect x="1305" y="293" width="1" height="16"/><rect x="1303" y="293" width="5" height="10"/><rect x="1313" y="294" width="1" height="34"/><rect x="1311" y="302" width="5" height="14"/><rect x="1321" y="293" width="1" height="64"/><rect x="1319" y="314" width="5" height="33"/><rect x="1329" y="346" width="1" height="22"/><rect x="1327" y="353" width="5" height="10"/><rect x="1337" y="353" width="1" height="22"/><rect x="1335" y="361" width="5" height="11"/><rect x="1345" y="365" width="1" height="8"/><rect x="1343" y="365" width="5" height="6"/><rect x="1344" y="366" width="3" height="4" fill="#fff"/></g></g><g clip-path="url(#cd)"><g fill="#c0c0c0"><rect x="1" y="665" width="1" height="9"/><rect x="9" y="665" width="1" height="10"/><rect x="17" y="665" width="1" height="10"/><rect x="25" y="665" width="1" height="26"/><rect x="33" y="665" width="1" height="33"/><rect x="41" y="665" width="1" height="37"/><rect x="49" y="665" width="1" height="38"/><rect x="57" y="665" width="1" height="38"/><rect x="65" y="665" width="1" height="39"/><rect x="73" y="665" width="1" height="37"/><rect x="81" y="665" width="1" height="37"/><rect x="89" y="665" width="1" height="37"/><rect x="97" y="665" width="1" height="39"/><rect x="105" y="665" width="1" height="41"/><rect x="113" y="665" width="1" height="49"/><rect x="121" y="665" width="1" height="61"/><rect x="129" y="665" width="1" height="67"/><rect x="137" y="665" width="1" height="67"/><rect x="145" y="665" width="1" height="69"/><rect x="153" y="665" width="1" height="69"/><rect x="161" y="665" width="1" height="70"/><rect x="169" y="665" width="1" height="67"/><rect x="177" y="665" width="1" height="62"/><rect x="185" y="665" width="1" height="54"/><rect x="193" y="665" width="1" height="48"/><rect x="201" y="665" width="1" height="43"/><rect x="209" y="665" width="1" height="39"/><rect x="217" y="665" width="1" height="36"/><rect x="225" y="665" width="1" height="32"/><rect x="233" y="665" width="1" height="28"/><rect x="241" y="665" width="1" height="23"/><rect x="249" y="665" width="1" height="17"/><rect x="257" y="665" width="1" height="13"/><rect x="265" y="665" width="1" height="7"/><rect x="273" y="665" width="1" height="1"/><rect x="281" y="661" width="1" height="4"/><rect x="289" y="655" width="1" height="10"/><rect x="297" y="651" width="1" height="14"/><rect x="305" y="647" width="1" height="18"/><rect x="313" y="652" width="1" height="13"/><rect x="321" y="656" width="1" height="9"/><rect x="329" y="663" width="1" height="2"/><rect x="337" y="665" width="1" height="4"/><rect x="345" y="665" width="1" height="10"/><rect x="353" y="665" width="1" height="19"/><rect x="361" y="665" width="1" height="22"/><rect x="369" y="665" width="1" height="24"/><rect x="377" y="665" width="1" height="25"/><rect x="385" y="665" width="1" height="25"/><rect x="393" y="665" width="1" height="23"/><rect x="401" y="665" width="1" height="23"/><rect x="409" y="665" width="1" height="13"/><rect x="417" y="665" width="1" height="5"/><rect x="425" y="665" width="1" height="1"/><rect x="433" y="663" width="1" height="2"/><rect x="441" y="662" width="1" height="3"/><rect x="449" y="659" width="1" height="6"/><rect x="457" y="649" width="1" height="16"/><rect x="465" y="634" width="1" height="31"/><rect x="473" y="623" width="1" height="42"/><rect x="481" y="614" width="1" height="51"/><rect x="489" y="610" width="1" height="55"/><rect x="497" y="604" width="1" height="61"/><rect x="505" y="604" width="1" height="61"/><rect x="513" y="606" width="1" height="59"/><rect x="521" y="608" width="1" height="57"/><rect x="529" y="610" width="1" height="55"/><rect x="537" y="612" width="1" height="53"/><rect x="545" y="614" width="1" height="51"/><rect x="553" y="622" width="1" height="43"/><rect x="561" y="632" width="1" height="33"/><rect x="569" y="639" width="1" height="26"/><rect x="577" y="647" width="1" height="18"/><rect x="585" y="655" width="1" height="10"/><rect x="593" y="657" width="1" height="8"/><rect x="601" y="658" width="1" height="7"/><rect x="609" y="663" width="1" height="2"/><rect x="617" y="665" width="1" height="4"/><rect x="625" y="665" width="1" height="7"/><rect x="633" y="665" width="1" height="10"/><rect x="641" y="665" width="1" height="17"/><rect x="649" y="665" width="1" height="24"/><rect x="657" y="665" width="1" height="35"/><rect x="665" y="665" width="1" height="39"/><rect x="673" y="665" width="1" height="38"/><rect x="681" y="665" width="1" height="39"/><rect x="689" y="665" width="1" height="40"/><rect x="697" y="665" width="1" height="40"/><rect x="705" y="665" width="1" height="41"/><rect x="713" y="665" width="1" height="38"/><rect x="721" y="665" width="1" height="36"/><rect x="729" y="665" width="1" height="34"/><rect x="737" y="665" width="1" height="36"/><rect x="745" y="665" width="1" height="26"/><rect x="753" y="665" width="1" height="11"/><rect x="761" y="665" width="1" height="3"/><rect x="769" y="660" width="1" height="5"/><rect x="777" y="653" width="1" height="12"/><rect x="785" y="642" width="1" height="23"/><rect x="793" y="634" width="1" height="31"/><rect x="801" y="618" width="1" height="47"/><rect x="809" y="604" width="1" height="61"/><rect x="817" y="596" width="1" height="69"/><rect x="825" y="595" width="1" height="70"/><rect x="833" y="597" width="1" height="68"/><rect x="841" y="614" width="1" height="51"/><rect x="849" y="636" width="1" height="29"/><rect x="857" y="655" width="1" height="10"/><rect x="865" y="665" width="1" height="6"/><rect x="873" y="665" width="1" height="18"/><rect x="881" y="665" width="1" height="37"/><rect x="889" y="665" width="1" height="39"/><rect x="897" y="665" width="1" height="38"/><rect x="905" y="665" width="1" height="36"/><rect x="913" y="665" width="1" height="34"/><rect x="921" y="665" width="1" height="34"/><rect x="929" y="665" width="1" height="31"/><rect x="937" y="665" width="1" height="24"/><rect x="945" y="665" width="1" height="32"/><rect x="953" y="665" width="1" height="37"/><rect x="961" y="665" width="1" height="39"/><rect x="969" y="665" width="1" height="41"/><rect x="977" y="665" width="1" height="44"/><rect x="985" y="665" width="1" height="48"/><rect x="993" y="665" width="1" height="57"/><rect x="1001" y="665" width="1" height="65"/><rect x="1009" y="665" width="1" height="68"/><rect x="1017" y="665" width="1" height="69"/><rect x="1025" y="665" width="1" height="70"/><rect x="1033" y="665" width="1" height="70"/><rect x="1041" y="665" width="1" height="68"/><rect x="1049" y="665" width="1" height="74"/><rect x="1057" y="665" width="1" height="78"/><rect x="1065" y="665" width="1" height="79"/><rect x="1073" y="665" width="1" height="83"/><rect x="1081" y="665" width="1" height="76"/><rect x="1089" y="665" width="1" height="70"/><rect x="1097" y="665" width="1" height="66"/><rect x="1105" y="665" width="1" height="62"/><rect x="1113" y="665" width="1" height="58"/><rect x="1121" y="665" width="1" height="56"/><rect x="1129" y="665" width="1" height="50"/><rect x="1137" y="665" width="1" height="42"/><rect x="1145" y="665" width="1" height="32"/><rect x="1153" y="665" width="1" height="25"/><rect x="1161" y="665" width="1" height="19"/><rect x="1169" y="665" width="1" height="13"/><rect x="1177" y="665" width="1" height="5"/><rect x="1193" y="664" width="1" height="1"/><rect x="1201" y="663" width="1" height="2"/><rect x="1209" y="663" width="1" height="2"/><rect x="1217" y="659" width="1" height="6"/><rect x="1225" y="655" width="1" height="10"/><rect x="1233" y="640" width="1" height="25"/><rect x="1241" y="628" width="1" height="37"/><rect x="1249" y="622" width="1" height="43"/><rect x="1257" y="617" width="1" height="48"/><rect x="1265" y="612" width="1" height="53"/><rect x="1273" y="613" width="1" height="52"/><rect x="1281" y="616" width="1" height="49"/><rect x="1289" y="617" width="1" height="48"/><rect x="1297" y="615" width="1" height="50"/><rect x="1305" y="615" width="1" height="50"/><rect x="1313" y="617" width="1" height="48"/><rect x="1321" y="622" width="1" height="43"/><rect x="1329" y="629" width="1" height="36"/><rect x="1337" y="636" width="1" height="29"/><rect x="1345" y="640" width="1" height="25"/></g><polyline points="1.5,664.3 9.5,666.7 17.5,668.5 25.5,671.8 33.5,675.8 41.5,680.4 49.5,684.7 57.5,688.4 65.5,692.1 73.5,695.2 81.5,698.2 89.5,701.2 97.5,702.7 105.5,703.6 113.5,704.9 121.5,707.5 129.5,710.7 137.5,713.9 145.5,717.5 153.5,721.1 161.5,724.8 169.5,727.9 177.5,730.1 185.5,730.7 193.5,729.3 201.5,726.7 209.5,723.5 217.5,719.8 225.5,715.7 233.5,711.1 241.5,706.1 249.5,701.1 257.5,696.6 265.5,691.9 273.5,687.3 281.5,682.4 289.5,677.3 297.5,672.2 305.5,667.0 313.5,663.0 321.5,660.2 329.5,658.5 337.5,658.3 345.5,659.3 353.5,661.8 361.5,665.4 369.5,669.7 377.5,674.4 385.5,678.7 393.5,682.3 401.5,685.0 409.5,686.0 417.5,685.5 425.5,683.5 433.5,680.8 441.5,677.8 449.5,674.3 457.5,669.7 465.5,663.7 473.5,656.5 481.5,649.4 489.5,642.7 497.5,635.8 505.5,629.3 513.5,623.0 521.5,617.4 529.5,613.1 537.5,610.8 545.5,609.7 553.5,610.5 561.5,613.0 569.5,616.8 577.5,621.6 585.5,627.0 593.5,632.4 601.5,637.6 609.5,643.3 617.5,649.5 625.5,655.1 633.5,659.8 641.5,664.6 649.5,669.3 657.5,674.4 665.5,679.6 673.5,684.7 681.5,689.2 689.5,693.1 697.5,696.7 705.5,700.2 713.5,702.6 721.5,703.8 729.5,703.8 737.5,703.4 745.5,702.1 753.5,699.0 761.5,694.9 769.5,690.0 777.5,684.1 785.5,677.4 793.5,669.9 801.5,660.9 809.5,650.2 817.5,639.6 825.5,630.5 833.5,622.7 841.5,617.5 849.5,615.5 857.5,617.0 865.5,621.2 873.5,628.4 881.5,639.3 889.5,651.3 897.5,663.4 905.5,674.9 913.5,684.4 921.5,691.4 929.5,696.0 937.5,697.9 945.5,699.4 953.5,699.4 961.5,699.3 969.5,699.7 977.5,700.6 985.5,702.1 993.5,704.8 1001.5,708.5 1009.5,713.4 1017.5,717.5 1025.5,721.3 1033.5,724.7 1041.5,727.7 1049.5,731.1 1057.5,734.4 1065.5,736.8 1073.5,738.8 1081.5,739.7 1089.5,739.8 1097.5,739.4 1105.5,738.5 1113.5,737.4 1121.5,735.3 1129.5,732.1 1137.5,728.0 1145.5,722.3 1153.5,716.6 1161.5,710.9 1169.5,705.0 1177.5,698.6 1185.5,692.2 1193.5,685.9 1201.5,680.1 1209.5,675.3 1217.5,671.2 1225.5,667.3 1233.5,662.4 1241.5,657.0 1249.5,651.6 1257.5,646.3 1265.5,640.5 1273.5,634.9 1281.5,629.6 1289.5,624.9 1297.5,620.4 1305.5,617.6 1313.5,616.3 1321.5,616.4 1329.5,617.7 1337.5,620.4 1345.5,623.5" fill="none" stroke="#ff0000" stroke-width="1" stroke-dasharray="3 2" shape-rendering="crispEdges"/></g><g clip-path="url(#cr)"><line x1="2" y1="793.5" x2="1620" y2="793.5" stroke="#c0c0c0" stroke-width="1" stroke-dasharray="3 3"/><line x1="2" y1="844.5" x2="1620" y2="844.5" stroke="#c0c0c0" stroke-width="1" stroke-dasharray="3 3"/><line x1="2" y1="905.5" x2="1620" y2="905.5" stroke="#c0c0c0" stroke-width="1" stroke-dasharray="3 3"/><polyline points="1.5,853.6 9.5,853.1 17.5,849.0 25.5,878.3 33.5,865.5 41.5,862.3 49.5,857.3 57.5,857.4 65.5,860.4 73.5,854.3 81.5,858.4 89.5,858.4 97.5,864.4 105.5,865.8 113.5,876.7 121.5,884.5 129.5,877.9 137.5,868.0 145.5,871.3 153.5,868.9 161.5,872.4 169.5,862.3 177.5,856.9 185.5,849.5 193.5,851.8 201.5,850.5 209.5,852.2 217.5,854.5 225.5,850.3 233.5,848.9 241.5,841.3 249.5,837.4 257.5,843.1 265.5,832.1 273.5,831.1 281.5,828.9 289.5,824.9 297.5,826.5 305.5,823.1 313.5,850.1 321.5,853.2 329.5,859.2 337.5,863.7 345.5,864.2 353.5,874.4 361.5,861.4 369.5,862.0 377.5,858.0 385.5,858.2 393.5,851.3 401.5,854.8 409.5,829.2 417.5,829.9 425.5,834.5 433.5,837.0 441.5,841.6 449.5,833.0 457.5,817.7 465.5,806.6 473.5,810.2 481.5,807.9 489.5,815.3 497.5,811.4 505.5,822.9 513.5,825.6 521.5,827.1 529.5,826.4 537.5,825.0 545.5,823.7 553.5,844.6 561.5,853.8 569.5,848.2 577.5,855.8 585.5,857.1 593.5,845.8 601.5,843.8 609.5,856.2 617.5,858.9 625.5,853.4 633.5,854.9 641.5,866.7 649.5,870.1 657.5,878.5 665.5,865.5 673.5,858.1 681.5,859.7 689.5,862.6 697.5,860.2 705.5,864.7 713.5,853.3 721.5,854.5 729.5,856.4 737.5,863.1 745.5,836.6 753.5,824.2 761.5,831.0 769.5,831.0 777.5,828.0 785.5,818.5 793.5,819.4 801.5,807.2 809.5,804.1 817.5,812.8 825.5,822.8 833.5,828.6 841.5,854.1 849.5,864.3 857.5,867.0 865.5,867.3 873.5,866.4 881.5,876.6 889.5,855.6 897.5,852.4 905.5,849.5 913.5,851.1 921.5,853.1 929.5,848.8 937.5,841.9 945.5,860.6 953.5,859.2 961.5,857.0 969.5,859.2 977.5,860.2 985.5,864.6 993.5,872.3 1001.5,873.2 1009.5,870.3 1017.5,866.9 1025.5,868.2 1033.5,868.9 1041.5,864.6 1049.5,877.8 1057.5,876.3 1065.5,873.0 1073.5,878.2 1081.5,856.8 1089.5,856.9 1097.5,859.2 1105.5,859.2 1113.5,858.6 1121.5,862.2 1129.5,851.2 1137.5,844.7 1145.5,837.6 1153.5,841.1 1161.5,839.4 1169.5,837.0 1177.5,830.0 1185.5,834.7 1193.5,842.1 1201.5,843.1 1209.5,845.1 1217.5,833.5 1225.5,831.1 1233.5,809.2 1241.5,810.7 1249.5,816.1 1257.5,817.6 1265.5,813.2 1273.5,827.7 1281.5,834.3 1289.5,828.9 1297.5,823.0 1305.5,826.2 1313.5,830.4 1321.5,840.1 1329.5,844.6 1337.5,847.1 1345.5,845.2" fill="none" stroke="#1e90ff" stroke-width="1" shape-rendering="crispEdges"/></g><g fill="#000"><rect x="0" y="30" width="1621" height="1"/><rect x="0" y="583" width="1621" height="1"/><rect x="0" y="30" width="1" height="554"/><rect x="1620" y="30" width="1" height="554"/><rect x="0" y="585" width="1621" height="1"/><rect x="0" y="755" width="1621" height="1"/><rect x="0" y="585" width="1" height="171"/><rect x="1620" y="585" width="1" height="171"/><rect x="0" y="757" width="1621" height="1"/><rect x="0" y="931" width="1621" height="1"/><rect x="0" y="757" width="1" height="175"/><rect x="1620" y="757" width="1" height="175"/></g><g style="font-family:'Liberation Sans',Arial,sans-serif;font-size:10px" fill="#000"><rect x="1621" y="52" width="2" height="1" fill="#000"/><text transform="translate(1626.5,56) scale(0.9,1)">1.32065</text><rect x="1621" y="85" width="2" height="1" fill="#000"/><text transform="translate(1626.5,89) scale(0.9,1)">1.31850</text><rect x="1621" y="118" width="2" height="1" fill="#000"/><text transform="translate(1626.5,122) scale(0.9,1)">1.31635</text><rect x="1621" y="151" width="2" height="1" fill="#000"/><text transform="translate(1626.5,155) scale(0.9,1)">1.31425</text><rect x="1621" y="184" width="2" height="1" fill="#000"/><text transform="translate(1626.5,188) scale(0.9,1)">1.31210</text><rect x="1621" y="217" width="2" height="1" fill="#000"/><text transform="translate(1626.5,221) scale(0.9,1)">1.30995</text><rect x="1621" y="250" width="2" height="1" fill="#000"/><text transform="translate(1626.5,254) scale(0.9,1)">1.30780</text><rect x="1621" y="283" width="2" height="1" fill="#000"/><text transform="translate(1626.5,287) scale(0.9,1)">1.30565</text><rect x="1621" y="316" width="2" height="1" fill="#000"/><text transform="translate(1626.5,320) scale(0.9,1)">1.30350</text><rect x="1621" y="349" width="2" height="1" fill="#000"/><text transform="translate(1626.5,353) scale(0.9,1)">1.30135</text><rect x="1621" y="382" width="2" height="1" fill="#000"/><text transform="translate(1626.5,386) scale(0.9,1)">1.29920</text><rect x="1621" y="415" width="2" height="1" fill="#000"/><text transform="translate(1626.5,419) scale(0.9,1)">1.29710</text><rect x="1621" y="448" width="2" height="1" fill="#000"/><text transform="translate(1626.5,452) scale(0.9,1)">1.29495</text><rect x="1621" y="481" width="2" height="1" fill="#000"/><text transform="translate(1626.5,485) scale(0.9,1)">1.29280</text><rect x="1621" y="514" width="2" height="1" fill="#000"/><text transform="translate(1626.5,518) scale(0.9,1)">1.29065</text><rect x="1621" y="547" width="2" height="1" fill="#000"/><text transform="translate(1626.5,551) scale(0.9,1)">1.28850</text><rect x="1621" y="580" width="2" height="1" fill="#000"/><text transform="translate(1626.5,584) scale(0.9,1)">1.28635</text><rect x="1621" y="665" width="2" height="1" fill="#000"/><text transform="translate(1624.3,596) scale(0.9,1)">0.003667</text><text transform="translate(1624.5,669) scale(0.9,1)">0.00</text><text transform="translate(1624,752) scale(0.9,1)">-0.00422</text><text transform="translate(1624.5,768.3) scale(0.9,1)">100</text><text transform="translate(1623,797) scale(0.9,1)">80</text><text transform="translate(1623,848) scale(0.9,1)">50</text><text transform="translate(1623,909.3) scale(0.9,1)">15</text><text transform="translate(1623.5,928.3) scale(0.9,1)">0</text></g><g style="font-family:'Liberation Sans',Arial,sans-serif;font-size:10px"><rect x="1622" y="272" width="41" height="11" fill="#ff0000"/><text transform="translate(1626.5,281) scale(0.9,1)" fill="#fff">1.30601</text><rect x="1622" y="314" width="41" height="11" fill="#ff4500"/><text transform="translate(1626.5,323) scale(0.9,1)" fill="#fff">1.30326</text><rect x="1622" y="343" width="41" height="11" fill="#32cd32"/><text transform="translate(1626.5,352) scale(0.9,1)" fill="#fff">1.30138</text><rect x="1622" y="360" width="41" height="11" fill="#000000"/><text transform="translate(1626.5,369) scale(0.9,1)" fill="#fff">1.30031</text><rect x="1622" y="393" width="41" height="11" fill="#0000ff"/><text transform="translate(1626.5,402) scale(0.9,1)" fill="#fff">1.29813</text><rect x="1622" y="424" width="41" height="11" fill="#0000ff"/><text transform="translate(1626.5,433) scale(0.9,1)" fill="#fff">1.29612</text></g><rect x="1615.5" y="318.5" width="4" height="4" fill="#fff" stroke="#ff4500"/><rect x="1.5" y="318.5" width="4" height="4" fill="#fff" stroke="#ff4500"/><rect x="1615.5" y="397.5" width="4" height="4" fill="#fff" stroke="#0000ff"/><rect x="1.5" y="397.5" width="4" height="4" fill="#fff" stroke="#0000ff"/><rect x="1615.5" y="428.5" width="4" height="4" fill="#fff" stroke="#0000ff"/><rect x="1.5" y="428.5" width="4" height="4" fill="#fff" stroke="#0000ff"/><g style="font-family:'Liberation Sans',Arial,sans-serif;font-size:10px" fill="#000"><rect x="1" y="932" width="1" height="3" fill="#000"/><text transform="translate(0.3,944) scale(0.9,1)">8 Jan 2020</text><rect x="65" y="932" width="1" height="3" fill="#000"/><text transform="translate(64.3,944) scale(0.9,1)">10 Jan 04:00</text><rect x="129" y="932" width="1" height="3" fill="#000"/><text transform="translate(128.3,944) scale(0.9,1)">13 Jan 12:00</text><rect x="193" y="932" width="1" height="3" fill="#000"/><text transform="translate(192.3,944) scale(0.9,1)">14 Jan 20:00</text><rect x="257" y="932" width="1" height="3" fill="#000"/><text transform="translate(256.3,944) scale(0.9,1)">16 Jan 04:00</text><rect x="321" y="932" width="1" height="3" fill="#000"/><text transform="translate(320.3,944) scale(0.9,1)">17 Jan 12:00</text><rect x="385" y="932" width="1" height="3" fill="#000"/><text transform="translate(384.3,944) scale(0.9,1)">20 Jan 20:00</text><rect x="449" y="932" width="1" height="3" fill="#000"/><text transform="translate(448.3,944) scale(0.9,1)">22 Jan 04:00</text><rect x="513" y="932" width="1" height="3" fill="#000"/><text transform="translate(512.3,944) scale(0.9,1)">23 Jan 12:00</text><rect x="577" y="932" width="1" height="3" fill="#000"/><text transform="translate(576.3,944) scale(0.9,1)">26 Jan 23:00</text><rect x="641" y="932" width="1" height="3" fill="#000"/><text transform="translate(640.3,944) scale(0.9,1)">28 Jan 04:00</text><rect x="705" y="932" width="1" height="3" fill="#000"/><text transform="translate(704.3,944) scale(0.9,1)">29 Jan 12:00</text><rect x="769" y="932" width="1" height="3" fill="#000"/><text transform="translate(768.3,944) scale(0.9,1)">30 Jan 20:00</text><rect x="833" y="932" width="1" height="3" fill="#000"/><text transform="translate(832.3,944) scale(0.9,1)">3 Feb 04:00</text><rect x="897" y="932" width="1" height="3" fill="#000"/><text transform="translate(896.3,944) scale(0.9,1)">4 Feb 12:00</text><rect x="961" y="932" width="1" height="3" fill="#000"/><text transform="translate(960.3,944) scale(0.9,1)">5 Feb 20:00</text><rect x="1025" y="932" width="1" height="3" fill="#000"/><text transform="translate(1024.3,944) scale(0.9,1)">7 Feb 04:00</text><rect x="1089" y="932" width="1" height="3" fill="#000"/><text transform="translate(1088.3,944) scale(0.9,1)">10 Feb 12:00</text><rect x="1153" y="932" width="1" height="3" fill="#000"/><text transform="translate(1152.3,944) scale(0.9,1)">11 Feb 20:00</text><rect x="1217" y="932" width="1" height="3" fill="#000"/><text transform="translate(1216.3,944) scale(0.9,1)">13 Feb 04:00</text><rect x="1281" y="932" width="1" height="3" fill="#000"/><text transform="translate(1280.3,944) scale(0.9,1)">14 Feb 12:00</text><rect x="1345" y="932" width="1" height="3" fill="#000"/><text transform="translate(1344.3,944) scale(0.9,1)">17 Feb 20:00</text></g><g style="font-family:'Liberation Sans',Arial,sans-serif;font-size:10px" fill="#000"><text transform="translate(16.6,42) scale(0.9,1)" textLength="225.0">GBPUSD-,H4&#160; 1.29995 1.30034 1.29980 1.30031</text><text transform="translate(5.3,598) scale(0.9,1)" textLength="163.3">MACD(12,26,9) 0.001174 0.001983</text><text transform="translate(5.2,769.6) scale(0.9,1)" textLength="74.8">RSI(14) 49.7943</text></g><path d="M4,41 L8,37 L12,41 Z" fill="#000"/><rect x="1666" y="28" width="1" height="924" fill="#e4e4e4"/><path d="M1339,31 L1348,31 L1343.5,36 Z" fill="#c0c0c0"/><line x1="1063.5" y1="556.5" x2="1233.8" y2="280.8" stroke="#ff0000" stroke-width="3.8" shape-rendering="crispEdges"/><path d="M1238.0,274.0 L1237.0,285.1 L1228.5,279.9 Z" fill="#ff0000" shape-rendering="crispEdges"/><line x1="1239.5" y1="275.5" x2="1276.1" y2="353.8" stroke="#ff0000" stroke-width="3.8" shape-rendering="crispEdges"/><path d="M1279.5,361.0 L1270.7,354.1 L1279.8,349.8 Z" fill="#ff0000" shape-rendering="crispEdges"/><line x1="1286.5" y1="363.5" x2="1302.5" y2="300.3" stroke="#ff0000" stroke-width="3.8" shape-rendering="crispEdges"/><path d="M1304.5,292.5 L1306.9,303.4 L1297.2,301.0 Z" fill="#ff0000" shape-rendering="crispEdges"/><line x1="1305.5" y1="295" x2="1357.5" y2="402.3" stroke="#ff0000" stroke-width="3.8" shape-rendering="crispEdges"/><path d="M1361.0,409.5 L1352.1,402.7 L1361.1,398.3 Z" fill="#ff0000" shape-rendering="crispEdges"/><rect x="1257" y="346" width="112" height="7" fill="#00ff00"/><rect x="1466" y="349" width="84" height="1" fill="#fff"/><rect x="1466" y="349" width="8" height="1" fill="#ff0000"/><rect x="1473.5" y="347.5" width="2.5" height="3" fill="#fff" stroke="#ff0000" stroke-width="1"/><rect x="1476.5" y="337.5" width="73" height="24" fill="#fff" stroke="#ff0000" stroke-width="1"/><text x="1478.5" y="358" style="font-family:'Liberation Sans',Arial,sans-serif;font-size:22px" fill="#ff0000" textLength="70" lengthAdjust="spacingAndGlyphs">1.30138</text><text x="1415" y="400" style="font-family:'Noto Serif CJK SC','Noto Sans CJK SC',serif;font-size:30px;font-weight:600" fill="#000" textLength="160" lengthAdjust="spacingAndGlyphs">多空转折点</text><text x="1414" y="399" style="font-family:'Noto Serif CJK SC','Noto Sans CJK SC',serif;font-size:30px;font-weight:600" fill="#00ff00" textLength="160" lengthAdjust="spacingAndGlyphs">多空转折点</text><defs><linearGradient id="gt" x1="0" y1="0" x2="0" y2="1"><stop offset="0" stop-color="#f85252"/><stop offset="1" stop-color="#dc3434"/></linearGradient><linearGradient id="gb" x1="0" y1="0" x2="0" y2="1"><stop offset="0" stop-color="#e23a3a"/><stop offset="1" stop-color="#b00404"/></linearGradient><linearGradient id="gs" x1="0" y1="0" x2="0" y2="1"><stop offset="0" stop-color="#f4f4f4"/><stop offset="0.5" stop-color="#e6e6e6"/><stop offset="0.55" stop-color="#d8d8d8"/><stop offset="1" stop-color="#d0d0d0"/></linearGradient></defs><rect x="4" y="50" width="52" height="25" fill="url(#gt)"/><rect x="4" y="74" width="109" height="40" fill="url(#gb)"/><path d="M4.5,114 V50.5 H55.5 V74.5 H112.5 V114" fill="none" stroke="#b80808" stroke-width="1"/><rect x="8" y="73" width="44" height="1" fill="#8c0808"/><rect x="8" y="74" width="44" height="1" fill="#f07070"/><rect x="171" y="50" width="52" height="25" fill="url(#gt)"/><rect x="115" y="74" width="108" height="40" fill="url(#gb)"/><path d="M115.5,114 V74.5 H171.5 V50.5 H222.5 V114" fill="none" stroke="#b80808" stroke-width="1"/><rect x="175" y="73" width="44" height="1" fill="#8c0808"/><rect x="175" y="74" width="44" height="1" fill="#f07070"/><rect x="58.5" y="50.5" width="110" height="21" fill="#fff" stroke="#a8a8a8"/><rect x="59.5" y="51.5" width="19" height="19" fill="url(#gs)" stroke="#c8c8c8"/><rect x="147.5" y="51.5" width="20" height="19" fill="url(#gs)" stroke="#c8c8c8"/><rect x="79" y="51" width="1" height="20" fill="#b8b8b8"/><rect x="147" y="51" width="1" height="20" fill="#b8b8b8"/><path d="M66.5,59.5 h5 l-2.5,2.5 z" fill="#4a5ec0"/><path d="M155,62 h5 l-2.5,-2.5 z" fill="#4a5ec0"/><text x="144" y="65" text-anchor="end" style="font-family:'Liberation Sans',Arial,sans-serif;font-size:12.3px" fill="#000">1.00</text><g style="font-family:'Liberation Sans',Arial,sans-serif" fill="#fff"><text x="16.3" y="66" style="font-size:12px" textLength="25.7" lengthAdjust="spacingAndGlyphs">SELL</text><text x="197" y="66" text-anchor="middle" style="font-size:12px">BUY</text><text x="24" y="105" style="font-size:12.5px;font-weight:bold" textLength="23" lengthAdjust="spacingAndGlyphs">1.30</text><text x="51.5" y="105" style="font-size:33px" textLength="34" lengthAdjust="spacingAndGlyphs">03</text><text x="90.5" y="88.7" style="font-size:12.5px;font-weight:bold">1</text><text x="134" y="105" style="font-size:12.5px;font-weight:bold" textLength="23" lengthAdjust="spacingAndGlyphs">1.30</text><text x="162" y="105" style="font-size:33px" textLength="34" lengthAdjust="spacingAndGlyphs">08</text><text x="201.5" y="88.7" style="font-size:12.5px;font-weight:bold">2</text></g></svg>
</div></body></html>
